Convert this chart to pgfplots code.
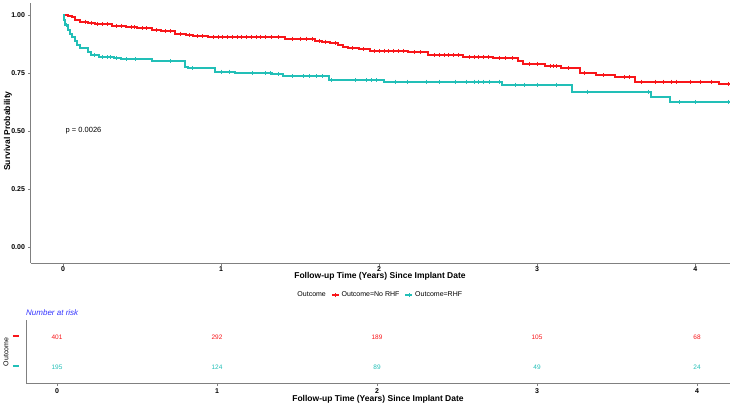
\documentclass[border=0pt]{standalone}
\usepackage{pgfplots}
\pgfplotsset{compat=1.18}
\usepackage{fontspec}
\setmainfont{Liberation Sans}
\definecolor{kmred}{RGB}{248,22,26}
\definecolor{kmcyan}{RGB}{34,191,183}
\definecolor{axgray}{RGB}{128,128,128}
\definecolor{riskblue}{RGB}{51,51,255}
\begin{document}
\begin{tikzpicture}[x=1pt,y=1pt]
\useasboundingbox (0pt,0pt) rectangle (733pt,407pt);
\begin{axis}[at={(31pt,144pt)}, anchor=south west, width=699pt, height=260pt, scale only axis,
  xmin=-0.2025, xmax=4.22, ymin=-0.069, ymax=1.052,
  axis x line*=bottom, axis y line*=left,
  axis line style={draw=axgray, line width=1pt},
  tick style={draw=axgray, line width=0.6pt}, tick align=outside, major tick length=2.5pt,
  xtick={0,1,2,3,4}, xticklabels={0,1,2,3,4},
  ytick={0,0.25,0.5,0.75,1}, yticklabels={0.00,0.25,0.50,0.75,1.00},
  tick label style={font=\bfseries\fontsize{7}{8}\selectfont, text=black},
  xticklabel style={yshift=2.5pt},
  legend style={at={(0.499,0)}, anchor=center, yshift=-32pt, draw=none, fill=none,
    font=\fontsize{7}{8}\selectfont, legend columns=3,
    /tikz/every even column/.append style={column sep=3pt}},
  legend image code/.code={\draw[#1] (0pt,0pt) -- (7pt,0pt); \draw[#1, line width=0.6pt] (3.5pt,-2pt) -- (3.5pt,2pt) (1.5pt,0pt) -- (5.5pt,0pt);},
  clip=false]
\addlegendimage{empty legend}
\addlegendentry{Outcome}
\addlegendimage{draw=kmred, line width=1.8pt}
\addlegendentry{Outcome=No RHF}
\addlegendimage{draw=kmcyan, line width=1.8pt}
\addlegendentry{Outcome=RHF}
% No RHF
\addplot[const plot, draw=kmred, line width=2pt, mark=none, forget plot] coordinates {
(0,1.0)(0.03,0.995)(0.06,0.99)(0.076,0.98)(0.11,0.972)(0.16,0.966)(0.2,0.961)(0.31,0.953)
(0.4,0.948)(0.47,0.943)(0.56,0.935)(0.62,0.93)(0.71,0.92)(0.78,0.914)(0.82,0.909)(0.92,0.906)
(1.405,0.898)(1.595,0.89)(1.64,0.885)(1.69,0.879)(1.74,0.871)(1.77,0.863)(1.8,0.857)(1.87,0.853)
(1.94,0.846)(2.18,0.839)(2.31,0.828)(2.53,0.82)(2.72,0.813)(2.88,0.802)(2.91,0.789)(3.05,0.78)
(3.15,0.77)(3.27,0.749)(3.37,0.741)(3.49,0.731)(3.62,0.713)(4.15,0.703)(4.22,0.703)};
% RHF
\addplot[const plot, draw=kmcyan, line width=2pt, mark=none, forget plot] coordinates {
(0,1.0)(0.005,0.98)(0.013,0.957)(0.03,0.935)(0.045,0.92)(0.057,0.905)(0.075,0.888)(0.09,0.871)
(0.11,0.858)(0.16,0.84)(0.18,0.828)(0.23,0.819)(0.32,0.815)(0.37,0.81)(0.56,0.80)(0.77,0.777)
(0.79,0.77)(0.96,0.756)(1.09,0.751)(1.325,0.744)(1.395,0.737)(1.68,0.72)(2.03,0.713)(2.78,0.70)
(3.22,0.67)(3.72,0.648)(3.84,0.626)(4.22,0.626)};
\addplot[only marks, draw=kmred, mark=+, mark size=2pt, mark options={draw=kmred, line width=0.6pt}, forget plot] coordinates {
(0.14,0.972)(0.18,0.966)(0.22,0.961)(0.25,0.961)(0.28,0.961)(0.34,0.953)(0.37,0.953)(0.43,0.948)
(0.45,0.948)(0.5,0.943)(0.53,0.943)(0.59,0.935)(0.65,0.93)(0.68,0.93)(0.74,0.92)(0.8,0.914)
(0.85,0.909)(0.88,0.909)(0.95,0.906)(0.98,0.906)(1.01,0.906)(1.04,0.906)(1.07,0.906)(1.1,0.906)
(1.13,0.906)(1.16,0.906)(1.19,0.906)(1.22,0.906)(1.25,0.906)(1.28,0.906)(1.32,0.906)(1.36,0.906)
(1.45,0.898)(1.5,0.898)(1.54,0.898)(1.58,0.898)(1.62,0.89)(1.66,0.885)(1.72,0.879)(1.83,0.857)
(1.9,0.853)(1.97,0.846)(2.0,0.846)(2.03,0.846)(2.06,0.846)(2.09,0.846)(2.12,0.846)(2.15,0.846)
(2.22,0.839)(2.26,0.839)(2.35,0.828)(2.38,0.828)(2.41,0.828)(2.44,0.828)(2.47,0.828)(2.5,0.828)
(2.57,0.82)(2.6,0.82)(2.63,0.82)(2.66,0.82)(2.69,0.82)(2.76,0.813)(2.8,0.813)(2.84,0.813)
(2.95,0.789)(3.0,0.789)(3.08,0.78)(3.1,0.78)(3.12,0.78)(3.2,0.77)(3.3,0.749)(3.42,0.741)
(3.55,0.731)(3.58,0.731)(3.66,0.713)(3.75,0.713)(3.8,0.713)(3.85,0.713)(3.88,0.713)(3.97,0.713)
(4.03,0.713)(4.1,0.713)(4.21,0.703)};
\addplot[only marks, draw=kmcyan, mark=+, mark size=2pt, mark options={draw=kmcyan, line width=0.6pt}, forget plot] coordinates {
(0.02,0.957)(0.2,0.828)(0.25,0.819)(0.28,0.819)(0.3,0.819)(0.34,0.815)(0.4,0.81)(0.46,0.81)
(0.68,0.80)(0.82,0.77)(1.0,0.756)(1.05,0.756)(1.2,0.751)(1.28,0.751)(1.31,0.751)(1.36,0.744)
(1.45,0.737)(1.52,0.737)(1.56,0.737)(1.6,0.737)(1.64,0.737)(1.7,0.72)(1.85,0.72)(1.92,0.72)
(1.95,0.72)(1.98,0.72)(2.1,0.713)(2.18,0.713)(2.3,0.713)(2.38,0.713)(2.48,0.713)(2.55,0.713)
(2.6,0.713)(2.63,0.713)(2.66,0.713)(2.7,0.713)(2.76,0.713)(2.86,0.70)(2.92,0.70)(3.0,0.70)
(3.12,0.70)(3.32,0.67)(3.7,0.67)(3.9,0.626)(4.0,0.626)(4.21,0.626)};
\node[anchor=west, font=\fontsize{7.5}{9}\selectfont] at (axis cs:-0.005,0.5) {p = 0.0026};
\end{axis}
\node[rotate=90, font=\bfseries\fontsize{8.5}{10}\selectfont] at (8pt,276pt) {Survival Probability};
\node[font=\bfseries\fontsize{8.5}{10}\selectfont] at (380pt,131pt) {Follow-up Time (Years) Since Implant Date};
\node[anchor=west, font=\itshape\fontsize{8}{10}\selectfont, text=riskblue, inner sep=0pt] at (26pt,94pt) {Number at risk};
\node[rotate=90, font=\fontsize{7}{8}\selectfont] at (6pt,55pt) {Outcome};
\begin{axis}[at={(26pt,24pt)}, anchor=south west, width=704pt, height=63pt, scale only axis,
  xmin=-0.194, xmax=4.206, ymin=0.467, ymax=2.567,
  axis x line*=bottom, axis y line*=left,
  axis line style={draw=axgray, line width=1pt},
  x tick style={draw=axgray, line width=0.6pt}, y tick style={draw=none},
  tick align=outside, major tick length=2.5pt,
  xtick={0,1,2,3,4}, xticklabels={0,1,2,3,4},
  ytick={1,2}, yticklabels={\textcolor{kmcyan}{\rule[0.5ex]{6pt}{2pt}},\textcolor{kmred}{\rule[0.5ex]{6pt}{2pt}}},
  xticklabel style={font=\bfseries\fontsize{7}{8}\selectfont},
  yticklabel style={xshift=-1pt},
  nodes near coords, point meta=explicit symbolic,
  nodes near coords align={center},
  nodes near coords style={font=\fontsize{6.5}{8}\selectfont},
  clip=false]
\addplot[draw=none, mark=none, nodes near coords style={text=kmred}] table[meta=n] {
x y n
0 2 401
1 2 292
2 2 189
3 2 105
4 2 68
};
\addplot[draw=none, mark=none, nodes near coords style={text=kmcyan}] table[meta=n] {
x y n
0 1 195
1 1 124
2 1 89
3 1 49
4 1 24
};
\end{axis}
\node[font=\bfseries\fontsize{8.5}{10}\selectfont] at (378pt,8pt) {Follow-up Time (Years) Since Implant Date};
\end{tikzpicture}
\end{document}
